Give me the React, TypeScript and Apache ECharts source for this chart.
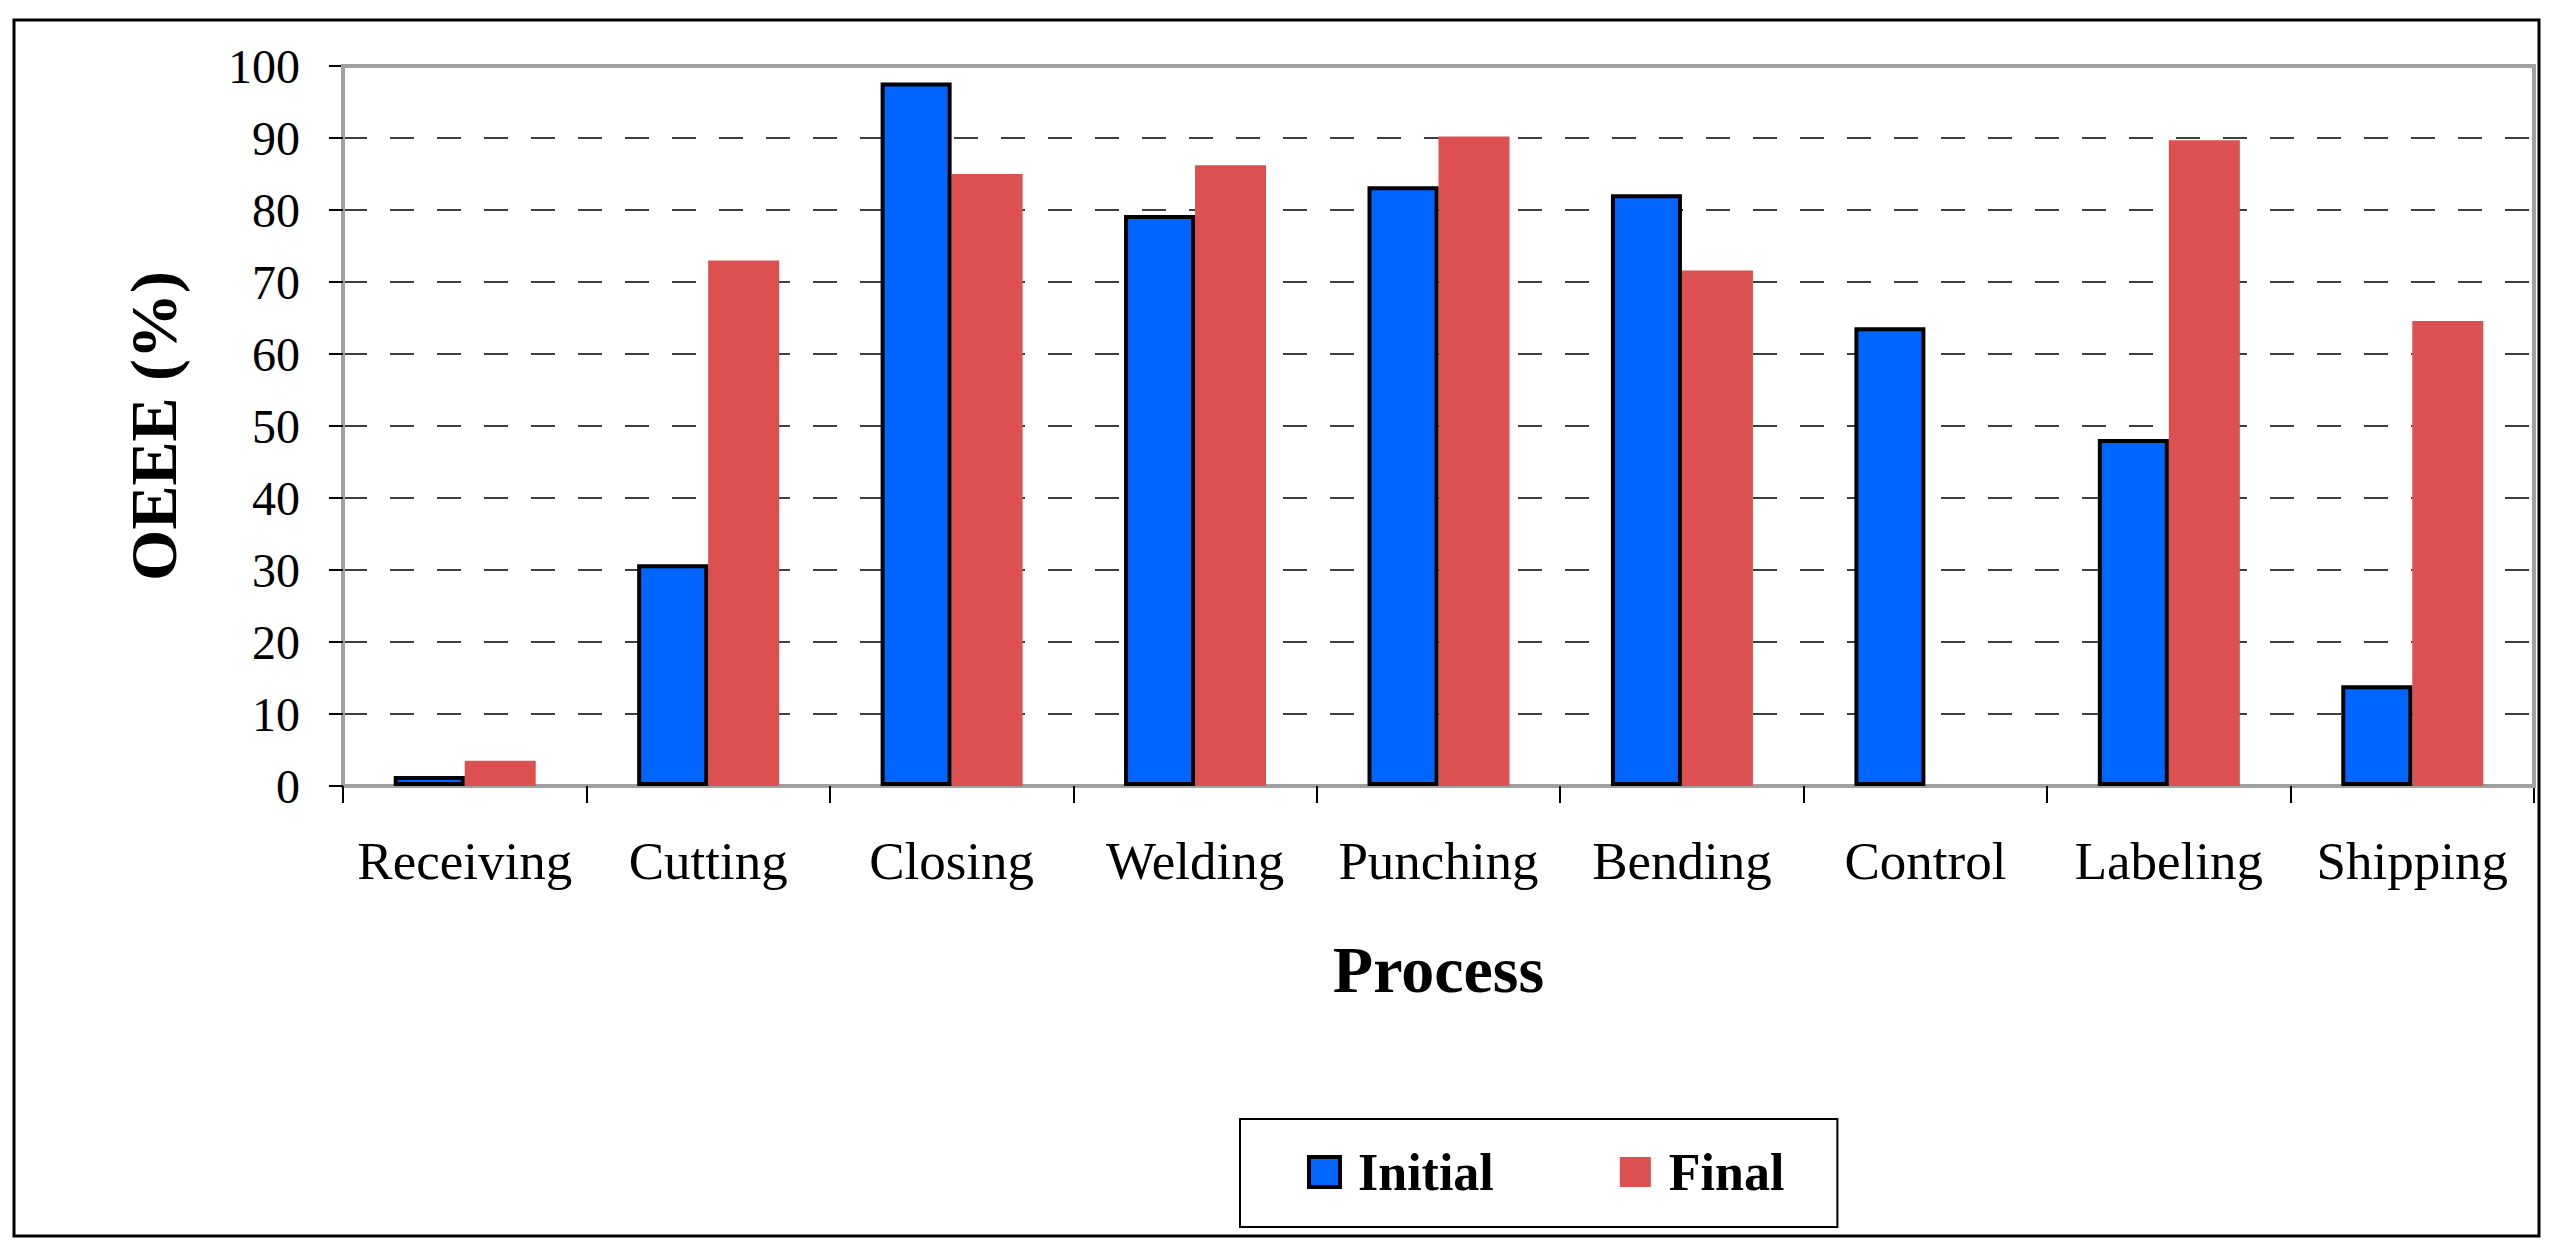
import React, { useEffect, useRef } from "react";
import * as echarts from "echarts";

const categories = ["Receiving", "Cutting", "Closing", "Welding", "Punching", "Bending", "Control", "Labeling", "Shipping"];
const initialValues = [1.4, 30.8, 97.7, 79.3, 83.3, 82.2, 63.7, 48.2, 14.0];
const finalValues = [3.5, 73.0, 85.0, 86.2, 90.2, 71.6, 0, 89.7, 64.6];
const yTicks = { min: 0, max: 100, interval: 10 };
const seriesNames = ["Initial", "Final"];

const FONT = "'Liberation Serif', 'Times New Roman', serif";

export default function App() {
  const ref = useRef<HTMLDivElement>(null);
  useEffect(() => {
    document.body.style.margin = "0";
    const chart = echarts.init(ref.current as HTMLDivElement, null, { renderer: "svg" });
    chart.setOption({
      animation: false,
      backgroundColor: "#ffffff",
      graphic: [
        {
          type: "rect",
          silent: true,
          shape: { x: 14, y: 20, width: 2525, height: 1216 },
          style: { fill: "none", stroke: "#000", lineWidth: 3 },
        },
        {
          type: "line",
          silent: true,
          z: 50,
          shape: { x1: 341, y1: 66, x2: 2536, y2: 66 },
          style: { stroke: "#a0a0a0", lineWidth: 4 },
        },
        {
          type: "line",
          silent: true,
          z: 50,
          shape: { x1: 2534, y1: 64, x2: 2534, y2: 788 },
          style: { stroke: "#a0a0a0", lineWidth: 4 },
        },
      ],
      grid: {
        left: 343,
        top: 66,
        width: 2191,
        height: 720,
        show: true,
        borderColor: "#a0a0a0",
        borderWidth: 4,
        backgroundColor: "transparent",
      },
      legend: {
        show: true,
        left: 1240,
        top: 1119,
        orient: "horizontal",
        borderColor: "#000",
        borderWidth: 2,
        padding: [27, 53, 29, 67],
        itemWidth: 31,
        itemHeight: 30,
        itemGap: 126,
        textStyle: {
          fontFamily: FONT,
          fontSize: 52,
          fontWeight: "bold",
          color: "#000",
          padding: [0, 0, 0, 13],
          lineHeight: 44,
        },
        data: [
          { name: seriesNames[0], icon: "rect", itemStyle: { color: "#0066ff", borderColor: "#000", borderWidth: 4 } },
          { name: seriesNames[1], icon: "rect", itemStyle: { color: "#dd5050", borderWidth: 0 } },
        ],
      },
      xAxis: {
        type: "category",
        data: categories,
        boundaryGap: true,
        axisLine: { show: true, lineStyle: { color: "#a0a0a0", width: 4 } },
        axisTick: { show: true, interval: 0, length: 17, lineStyle: { color: "#000", width: 2 } },
        axisLabel: { interval: 0, margin: 48, fontSize: 53, fontFamily: FONT, color: "#000" },
        name: "Process",
        nameLocation: "middle",
        nameGap: 150,
        nameTextStyle: { fontFamily: FONT, fontSize: 66, fontWeight: "bold", color: "#000" },
      },
      yAxis: {
        type: "value",
        min: yTicks.min,
        max: yTicks.max,
        interval: yTicks.interval,
        axisLine: { show: true, lineStyle: { color: "#a0a0a0", width: 4 } },
        axisTick: { show: true, length: 14, lineStyle: { color: "#000", width: 2 } },
        axisLabel: { margin: 43, fontSize: 48, fontFamily: FONT, color: "#000" },
        splitLine: { show: true, lineStyle: { color: "#000", width: 1.5, type: [24, 23] } },
        name: "OEEE (%)",
        nameLocation: "middle",
        nameRotate: 90,
        nameGap: 157,
        nameTextStyle: { fontFamily: FONT, fontSize: 66, fontWeight: "bold", color: "#000" },
      },
      series: [
        {
          name: seriesNames[0],
          type: "bar",
          data: initialValues,
          barWidth: 71,
          barGap: "0%",
          z: 3,
          itemStyle: { color: "#0066ff", borderColor: "#000", borderWidth: 4 },
        },
        {
          name: seriesNames[1],
          type: "bar",
          data: finalValues,
          barWidth: 71,
          barGap: "0%",
          z: 2,
          itemStyle: { color: "#dd5050", borderWidth: 0 },
        },
      ],
    });
    return () => chart.dispose();
  }, []);
  return <div ref={ref} style={{ width: 2553, height: 1250 }} />;
}
